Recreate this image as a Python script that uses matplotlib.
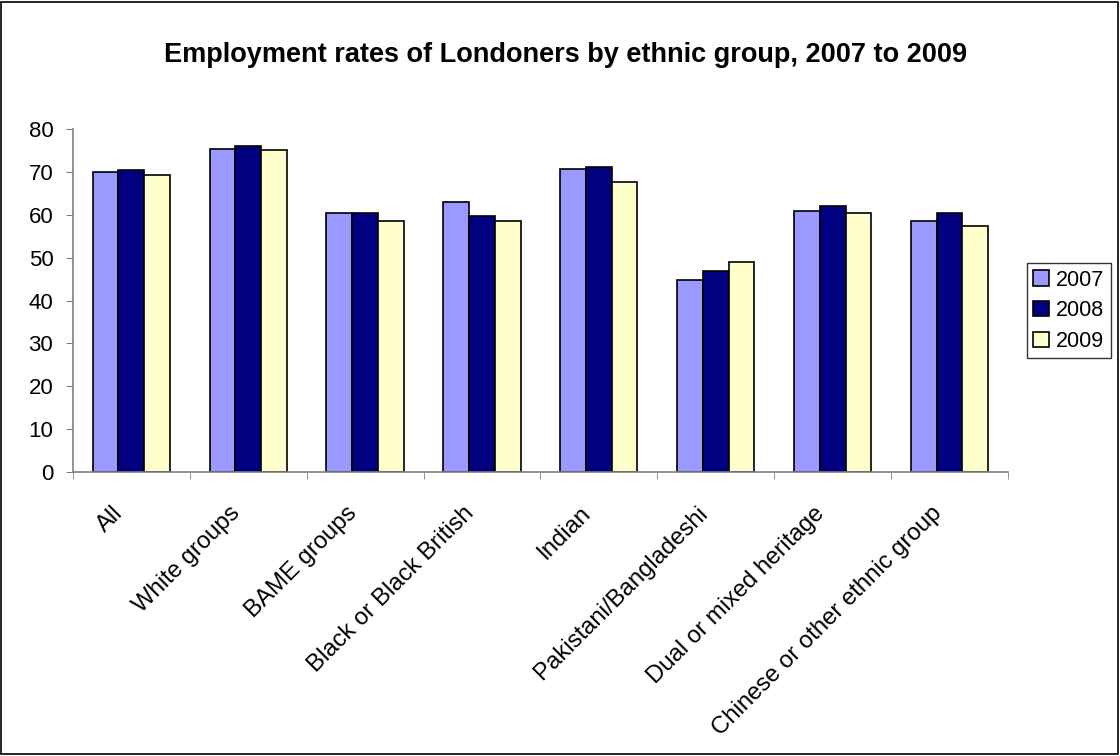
import numpy as np
import matplotlib.pyplot as plt
import matplotlib.transforms as mtransforms
from matplotlib.patches import Rectangle

plt.rcParams["font.family"] = ["Liberation Sans", "DejaVu Sans"]

# Employment rates (%) by ethnic group
groups = [
    "All",
    "White groups",
    "BAME groups",
    "Black or Black British",
    "Indian",
    "Pakistani/Bangladeshi",
    "Dual or mixed heritage",
    "Chinese or other ethnic group",
]
years = ["2007", "2008", "2009"]
rate_2007 = [70.0, 75.3, 60.4, 63.0, 70.8, 44.9, 60.9, 58.5]
rate_2008 = [70.5, 76.1, 60.4, 59.7, 71.3, 46.9, 62.1, 60.5]
rate_2009 = [69.3, 75.2, 58.6, 58.6, 67.7, 48.9, 60.5, 57.4]
colors = ["#9999FF", "#000080", "#FFFFCC"]

fig = plt.figure(figsize=(11.2, 7.56), dpi=100)
ax = fig.add_axes([0.065, 0.376, 0.835, 0.453])

x = np.arange(len(groups))
w = 0.22
for i, (vals, c, lab) in enumerate(zip([rate_2007, rate_2008, rate_2009], colors, years)):
    ax.bar(x + (i - 1) * w, vals, width=w, color=c, edgecolor="black",
           linewidth=1.2, label=lab)

ax.set_xlim(-0.5, len(groups) - 0.5)
ax.set_ylim(0, 80)
ax.set_yticks(range(0, 81, 10))
ax.tick_params(axis="y", direction="out", length=5, color="#808080",
               labelsize=16, pad=9)

# category labels at group centres, tick marks at group boundaries
ax.set_xticks(x)
ax.set_xticklabels(groups, rotation=45, ha="right", va="top",
                   rotation_mode="anchor", fontsize=17.2)
ax.tick_params(axis="x", which="major", length=0, pad=22)
shift = mtransforms.ScaledTranslation(-19 / 100, 0, fig.dpi_scale_trans)
for lbl in ax.get_xticklabels():
    lbl.set_transform(lbl.get_transform() + shift)
ax.set_xticks(np.arange(-0.5, len(groups)), minor=True)
ax.tick_params(axis="x", which="minor", direction="out", length=5,
               color="#808080")

for side in ["top", "right"]:
    ax.spines[side].set_visible(False)
for side in ["left", "bottom"]:
    ax.spines[side].set_color("#808080")
    ax.spines[side].set_linewidth(1.2)

fig.suptitle("Employment rates of Londoners by ethnic group, 2007 to 2009",
             x=0.505, y=0.944, fontsize=19.5, fontweight="bold")

leg = ax.legend(loc="center left", bbox_to_anchor=(0.917, 0.589),
                bbox_transform=fig.transFigure, fontsize=15.5,
                frameon=True, fancybox=False, edgecolor="black",
                handlelength=0.7, handleheight=0.7, handletextpad=0.35,
                borderpad=0.3, labelspacing=0.45, borderaxespad=0)
leg.get_frame().set_linewidth(1.0)

# frame around the whole chart
fig.patches.append(Rectangle((0.001, 0.002), 0.997, 0.996, transform=fig.transFigure,
                             fill=False, edgecolor="black", linewidth=1.2))

fig.savefig("out.png", dpi=100)
